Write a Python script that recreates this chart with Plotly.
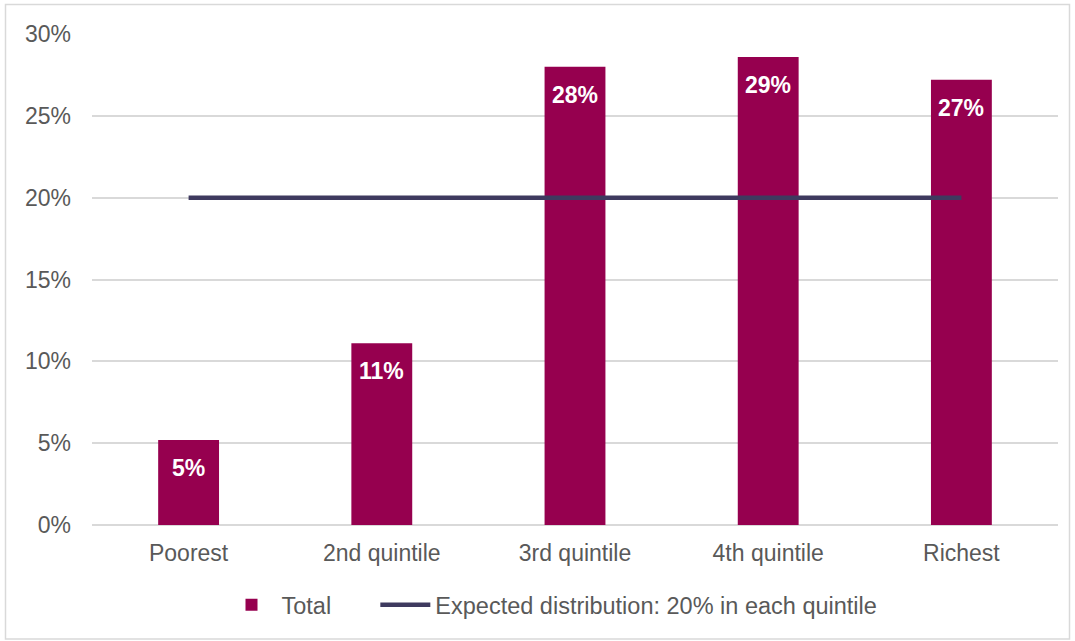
import plotly.graph_objects as go

categories = ["Poorest", "2nd quintile", "3rd quintile", "4th quintile", "Richest"]
total_share = [0.052, 0.111, 0.280, 0.286, 0.272]
expected_share = [0.20, 0.20, 0.20, 0.20, 0.20]
y_ticks = [0, 0.05, 0.10, 0.15, 0.20, 0.25, 0.30]

W, H = 1075, 641
L, R, T, B = 92, 17, 34, 116
pw, ph = W - L - R, H - T - B

BAR = "#96004f"
LINE = "#3e3a5f"
GREY = "#595959"
FONT = "Liberation Sans, Arial, sans-serif"

fig = go.Figure()
fig.add_trace(go.Bar(
    x=categories, y=total_share, name="Total" + "\u00a0" * 6,
    marker=dict(color=BAR, line=dict(width=0)),
))
fig.add_trace(go.Scatter(
    x=categories, y=expected_share, mode="lines",
    name="Expected distribution: 20% in each quintile",
    line=dict(color=LINE, width=4.5),
))

for c, v in zip(categories, total_share):
    fig.add_annotation(
        x=c, y=v, text=f"<b>{v*100:.0f}%</b>", showarrow=False,
        yanchor="middle", yshift=-28,
        font=dict(family=FONT, size=23, color="white"),
    )

def px2paper_x(p):
    return (p - L) / pw

def px2paper_y(p):
    return (H - B - p) / ph

fig.add_shape(
    type="rect", xref="paper", yref="paper",
    x0=px2paper_x(5.5), x1=px2paper_x(1069.5),
    y0=px2paper_y(639), y1=px2paper_y(4.5),
    line=dict(color="#d9d9d9", width=1.5), fillcolor="rgba(0,0,0,0)",
    layer="below",
)

fig.update_layout(
    width=W, height=H,
    margin=dict(l=L, r=R, t=T, b=B, pad=0),
    paper_bgcolor="white", plot_bgcolor="white",
    bargap=0.685,
    font=dict(family=FONT, size=23, color=GREY),
    showlegend=True,
    legend=dict(
        orientation="h", x=px2paper_x(552), xanchor="center",
        y=px2paper_y(605), yanchor="middle",
        font=dict(family=FONT, size=23.5, color=GREY),
        itemwidth=50, traceorder="normal",
        bgcolor="rgba(0,0,0,0)",
    ),
    xaxis=dict(
        showgrid=False, showline=False, ticks="",
        tickfont=dict(family=FONT, size=23, color=GREY),
        ticklabelstandoff=12,
    ),
    yaxis=dict(
        range=[0, 0.30], tickvals=y_ticks, tickformat=".0%",
        showgrid=True, gridcolor="#d9d9d9", gridwidth=1.5,
        zeroline=True, zerolinecolor="#d9d9d9", zerolinewidth=1.5,
        showline=False, ticks="",
        tickfont=dict(family=FONT, size=23, color=GREY),
        ticklabelstandoff=20,
    ),
)

fig.write_html("out.html")
